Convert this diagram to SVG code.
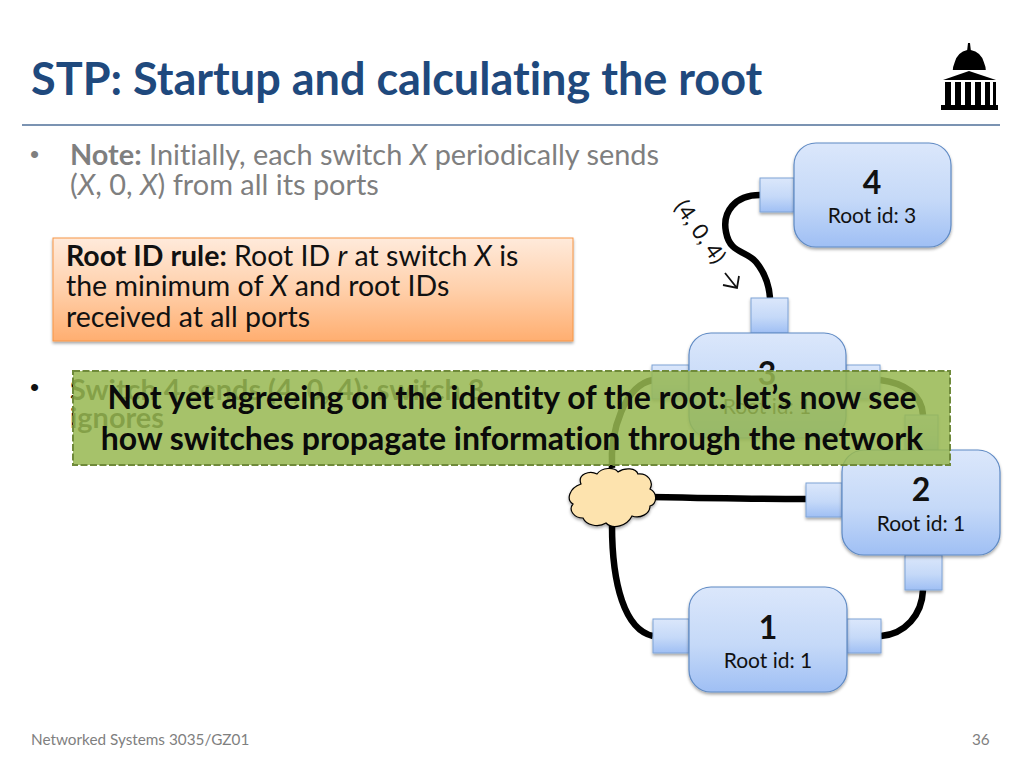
<svg xmlns="http://www.w3.org/2000/svg" width="1024" height="768" viewBox="0 0 1024 768">
<style>
text{font-family:Lato,"Open Sans","Liberation Sans",sans-serif;font-variant-ligatures:none}
.b{font-weight:700}.i{font-style:italic}
.body{font-size:28.900px;fill:#7f7f7f}
.dot{font-family:"Liberation Sans",sans-serif;font-size:26px}
.rule{font-size:28.500px;fill:#111}
.sw{fill:url(#blue);stroke:#5f8ac4;stroke-width:1.2;filter:url(#sh)}
.port{fill:url(#blue);stroke:#7fa3d6;stroke-width:1;filter:url(#sh)}
.id{font-size:32px;font-weight:700;text-anchor:middle;fill:#111}
.root{font-size:21px;text-anchor:middle;fill:#111}
.wire{fill:none;stroke:#000;stroke-width:6.500;stroke-linecap:butt}
.over{font-size:32px;font-weight:700;fill:#0a0a0a;text-anchor:middle}
.foot{font-size:15.300px;fill:#7f7f7f}
</style>
<defs>
<linearGradient id="blue" x1="0" y1="0" x2="0" y2="1"><stop offset="0" stop-color="#dbe7fb"/><stop offset=".55" stop-color="#c5d9f8"/><stop offset="1" stop-color="#9fbff4"/></linearGradient>
<linearGradient id="orange" x1="0" y1="0" x2="0" y2="1"><stop offset="0" stop-color="#ffeadb"/><stop offset=".5" stop-color="#ffd0ab"/><stop offset="1" stop-color="#ffae70"/></linearGradient>
<filter id="sh" x="-10%" y="-10%" width="120%" height="125%"><feDropShadow dx="0" dy="2" stdDeviation="1.5" flood-color="#000" flood-opacity=".35"/></filter>
</defs>
<rect width="1024" height="768" fill="#fff"/>
<text id="title" x="31" y="95" class="b" font-size="45" fill="#1f497d">STP: Startup and calculating the root</text>
<path d="M22 125H1000" stroke="#4f6f98" stroke-width="1.5"/>
<g id="logo" fill="#000">
<path d="M968 43h2l.8 7q10 2 13 12 2 5 2 8h-33q0-3 2-8 3-10 12.400-12z"/>
<path d="M943 80l26-9 27 9z"/>
<path d="M945 82h6v24h-6zM955 82h6v24h-6zM965 82h6v24h-6zM975 82h6v24h-6zM985 82h5v24h-5zM993 82h3v24h-3z"/>
<path d="M941 105h57v5h-57z"/>
</g>
<g id="bullets">
<text x="30" y="163" class="dot" fill="#7f7f7f">•</text>
<text x="70" y="165" class="body"><tspan class="b">Note:</tspan> Initially, each switch <tspan class="i">X</tspan> periodically sends</text>
<text x="70" y="195" class="body">(<tspan class="i">X</tspan>, 0, <tspan class="i">X</tspan>) from all its ports</text>
<text x="30" y="396" class="dot" fill="#111">•</text>
</g>
<g id="rule">
<rect x="53" y="238" width="520" height="103" fill="url(#orange)" stroke="#f79646" stroke-width="1" filter="url(#sh)"/>
<text x="66" y="266" class="rule"><tspan class="b">Root ID rule:</tspan> Root ID <tspan class="i">r</tspan> at switch <tspan class="i">X</tspan> is</text>
<text x="66" y="296" class="rule">the minimum of <tspan class="i">X</tspan> and root IDs</text>
<text x="66" y="327" class="rule">received at all ports</text>
</g>
<g id="connectors">
<path class="wire" d="M760 195C735 195 722 212 726 232C730 254 746 250 756 262C765 273 769 285 770 298"/>
<path class="wire" d="M653 380C625 385 610 430 612 468"/>
<path class="wire" d="M880 380C905 383 922 395 923 415"/>
<path class="wire" d="M650 497C700 498 760 499 806 499"/>
<path class="wire" d="M612 525C612 585 625 630 653 636"/>
<path class="wire" d="M881 636C905 634 922 615 923 590"/>
</g>
<g id="node4">
<rect class="port" x="760" y="178" width="34" height="34"/>
<rect class="sw" x="794" y="143" width="157" height="104" rx="22"/>
<text class="id" x="872" y="194">4</text><text class="root" x="872" y="223">Root id: 3</text>
</g>
<g id="node3">
<rect class="port" x="751" y="298" width="37" height="35"/>
<rect class="port" x="652" y="365" width="37" height="34"/>
<rect class="port" x="846" y="365" width="34" height="34"/>
<rect class="sw" x="689" y="333" width="157" height="105" rx="22"/>
<text class="id" x="767" y="385">3</text><text class="root" x="767" y="414">Root id: 1</text>
</g>
<g id="node2">
<rect class="port" x="905" y="415" width="33" height="35"/>
<rect class="port" x="806" y="483" width="36" height="34"/>
<rect class="port" x="905" y="555" width="37" height="35"/>
<rect class="sw" x="842" y="450" width="158" height="105" rx="22"/>
<text class="id" x="921" y="501">2</text><text class="root" x="921" y="531">Root id: 1</text>
</g>
<g id="node1">
<rect class="port" x="653" y="619" width="36" height="34"/>
<rect class="port" x="847" y="619" width="34" height="34"/>
<rect class="sw" x="689" y="587" width="158" height="105" rx="22"/>
<text class="id" x="768" y="639">1</text><text class="root" x="768" y="668">Root id: 1</text>
</g>
<g id="cloud">
<path d="M581 484C577 474 590 470 597 474C602 467 614 467 618 472C625 467 636 468 638 474C648 473 654 482 650 489C658 493 657 504 650 506C650 514 640 519 632 516C627 526 613 530 606 523C598 528 586 525 583 518C574 518 568 510 573 504C566 500 569 488 581 484Z" fill="#fde3ae" stroke="#000" stroke-width="1.2" filter="url(#sh)"/>
</g>
<g id="message">
<text x="70" y="400" class="b" font-size="28.900" fill="#111">Switch 4 sends (4, 0, 4); switch 3</text>
<text x="70" y="428" class="b" font-size="28.900" fill="#111">ignores</text>
<rect x="73" y="371" width="877" height="94" fill="#97b851" fill-opacity=".86" stroke="#6f8a3a" stroke-width="2" stroke-dasharray="7 2.500"/>
<text class="over" x="512" y="409">Not yet agreeing on the identity of the root: let’s now see</text>
<text class="over" x="512" y="450">how switches propagate information through the network</text>
</g>
<g id="label">
<text font-size="22" fill="#111" text-anchor="middle" transform="translate(694 236) rotate(55)">(4, 0, 4)</text>
<path d="M725 273L737 288M723 285L737 288L739 276" fill="none" stroke="#111" stroke-width="1.800"/>
</g>
<g id="footer">
<text class="foot" x="31" y="745">Networked Systems 3035/GZ01</text>
<text class="foot" x="972" y="745">36</text>
</g>
</svg>
